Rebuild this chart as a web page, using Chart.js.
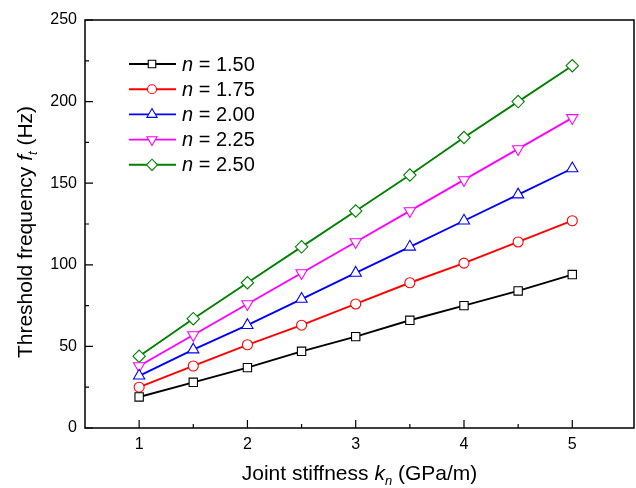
<!DOCTYPE html>
<html>
<head>
<meta charset="utf-8">
<script src="https://cdn.jsdelivr.net/npm/chart.js@4/dist/chart.umd.min.js"></script>
<style>
html, body { margin: 0; padding: 0; background: #fff; }
</style>
</head>
<body>
<canvas id="chart" width="636" height="488"></canvas>
<script>
// joint stiffness kn (GPa/m)
const kn = [1, 1.5, 2, 2.5, 3, 3.5, 4, 4.5, 5];
// threshold frequency ft (Hz) for each n
const n150 = [19, 28, 37, 47, 56, 66, 75, 84, 94];
const n175 = [25, 38, 51, 63, 76, 89, 101, 114, 127];
const n200 = [32, 48, 63, 79, 95, 111, 127, 143, 159];
const n225 = [38, 57, 76, 95, 114, 133, 152, 171, 190];
const n250 = [44, 67, 89, 111, 133, 155, 178, 200, 222];
const seriesLabels = ["1.50", "1.75", "2.00", "2.25", "2.50"];

const xTicks = [1, 2, 3, 4, 5];
const xMinor = [1.5, 2.5, 3.5, 4.5];
const yTicks = [0, 50, 100, 150, 200, 250];
const yMinor = [25, 75, 125, 175, 225];

const FONT = "'Liberation Sans', Arial, sans-serif";

function pts(ys) {
    return ys.map((y, i) => ({x: kn[i], y: y}));
}

const styles = [
    {color: "#000000", marker: "rect", r: 5.9, rot: 0},
    {color: "#ff0000", marker: "circle", r: 5, rot: 0},
    {color: "#0000ff", marker: "triangle", r: 6.5, rot: 0},
    {color: "#ff00ff", marker: "triangle", r: 6.5, rot: 180},
    {color: "#008000", marker: "rectRot", r: 6.2, rot: 0}
];
const allSeries = [n150, n175, n200, n225, n250];

const datasets = allSeries.map((s, i) => ({
    label: "n = " + seriesLabels[i],
    data: pts(s),
    borderColor: styles[i].color,
    borderWidth: 1.9,
    pointStyle: styles[i].marker,
    pointRotation: styles[i].rot,
    pointRadius: styles[i].r,
    pointBorderWidth: 1.1,
    pointBackgroundColor: "#ffffff",
    pointBorderColor: styles[i].color,
    tension: 0
}));

// measures text pieces with mixed italic / subscript
function richText(ctx, parts, size) {
    let w = 0;
    parts.forEach(p => {
        let fs = p.sub ? size * 0.62 : size;
        ctx.font = (p.it ? "italic " : "") + fs + "px " + FONT;
        p.w = ctx.measureText(p.t).width;
        p.fs = fs;
        w += p.w;
    });
    return w;
}
function drawRich(ctx, parts, x, y, size) {
    let w = richText(ctx, parts, size);
    let cx = x - w / 2;
    ctx.textAlign = "left";
    ctx.textBaseline = "alphabetic";
    parts.forEach(p => {
        ctx.font = (p.it ? "italic " : "") + p.fs + "px " + FONT;
        ctx.fillText(p.t, cx, y + (p.sub ? size * 0.22 : 0));
        cx += p.w;
    });
}

const decor = {
    id: "decor",
    afterDraw(chart) {
        const ctx = chart.ctx;
        const a = chart.chartArea;
        const xs = chart.scales.x, ys = chart.scales.y;
        ctx.save();
        ctx.strokeStyle = "#000";
        ctx.lineWidth = 1.5;
        ctx.strokeRect(a.left, a.top, a.right - a.left, a.bottom - a.top);

        // inward ticks
        ctx.lineWidth = 1.2;
        ctx.beginPath();
        xTicks.forEach(v => { let p = xs.getPixelForValue(v); ctx.moveTo(p, a.bottom); ctx.lineTo(p, a.bottom - 8); });
        xMinor.forEach(v => { let p = xs.getPixelForValue(v); ctx.moveTo(p, a.bottom); ctx.lineTo(p, a.bottom - 4); });
        yTicks.forEach(v => { let p = ys.getPixelForValue(v); ctx.moveTo(a.left, p); ctx.lineTo(a.left + 8, p); });
        yMinor.forEach(v => { let p = ys.getPixelForValue(v); ctx.moveTo(a.left, p); ctx.lineTo(a.left + 4, p); });
        ctx.stroke();

        // axis titles
        ctx.fillStyle = "#000";
        drawRich(ctx, [{t: "Joint stiffness "}, {t: "k", it: true}, {t: "n", it: true, sub: true}, {t: " (GPa/m)"}],
            (a.left + a.right) / 2, 480, 21);
        ctx.save();
        ctx.translate(32, 232);
        ctx.rotate(-Math.PI / 2);
        drawRich(ctx, [{t: "Threshold frequency "}, {t: "f", it: true}, {t: "t", it: true, sub: true}, {t: " (Hz)"}],
            0, 0, 21);
        ctx.restore();

        // legend
        chart.data.datasets.forEach((ds, i) => {
            let y = 64 + i * 25.2;
            ctx.strokeStyle = ds.borderColor;
            ctx.lineWidth = 1.9;
            ctx.beginPath();
            ctx.moveTo(129, y);
            ctx.lineTo(176, y);
            ctx.stroke();
            ctx.fillStyle = "#fff";
            ctx.lineWidth = 1.1;
            Chart.helpers.drawPoint(ctx, {
                pointStyle: ds.pointStyle, rotation: ds.pointRotation,
                radius: ds.pointRadius * 0.9, borderWidth: 1.1
            }, 152, y);
            ctx.fillStyle = "#000";
            ctx.textBaseline = "middle";
            ctx.textAlign = "left";
            ctx.font = "italic 20px " + FONT;
            ctx.fillText("n", 182, y + 1);
            let w = ctx.measureText("n").width;
            ctx.font = "20px " + FONT;
            ctx.fillText(ds.label.slice(1), 182 + w, y + 1);
        });
        ctx.restore();
    }
};

new Chart(document.getElementById("chart").getContext("2d"), {
    type: "line",
    data: {datasets: datasets},
    options: {
        responsive: false,
        animation: false,
        layout: {autoPadding: false, padding: {top: 20, right: 2, left: 0, bottom: 0}},
        plugins: {legend: {display: false}, tooltip: {enabled: false}},
        scales: {
            x: {
                type: "linear",
                min: 0.5,
                max: 5.57,
                grid: {display: false, drawTicks: false},
                border: {display: false},
                afterBuildTicks: s => { s.ticks = xTicks.map(v => ({value: v})); },
                afterFit: s => { s.height = 60; s.paddingLeft = 0; s.paddingRight = 0; },
                ticks: {
                    padding: 7,
                    color: "#000",
                    font: {family: FONT, size: 16},
                    maxRotation: 0
                }
            },
            y: {
                min: 0,
                max: 250,
                grid: {display: false, drawTicks: false},
                border: {display: false},
                afterBuildTicks: s => { s.ticks = yTicks.map(v => ({value: v})); },
                afterFit: s => { s.width = 85; s.paddingTop = 0; s.paddingBottom = 0; },
                ticks: {
                    padding: 8,
                    color: "#000",
                    font: {family: FONT, size: 16}
                }
            }
        }
    },
    plugins: [decor]
});
</script>
</body>
</html>
